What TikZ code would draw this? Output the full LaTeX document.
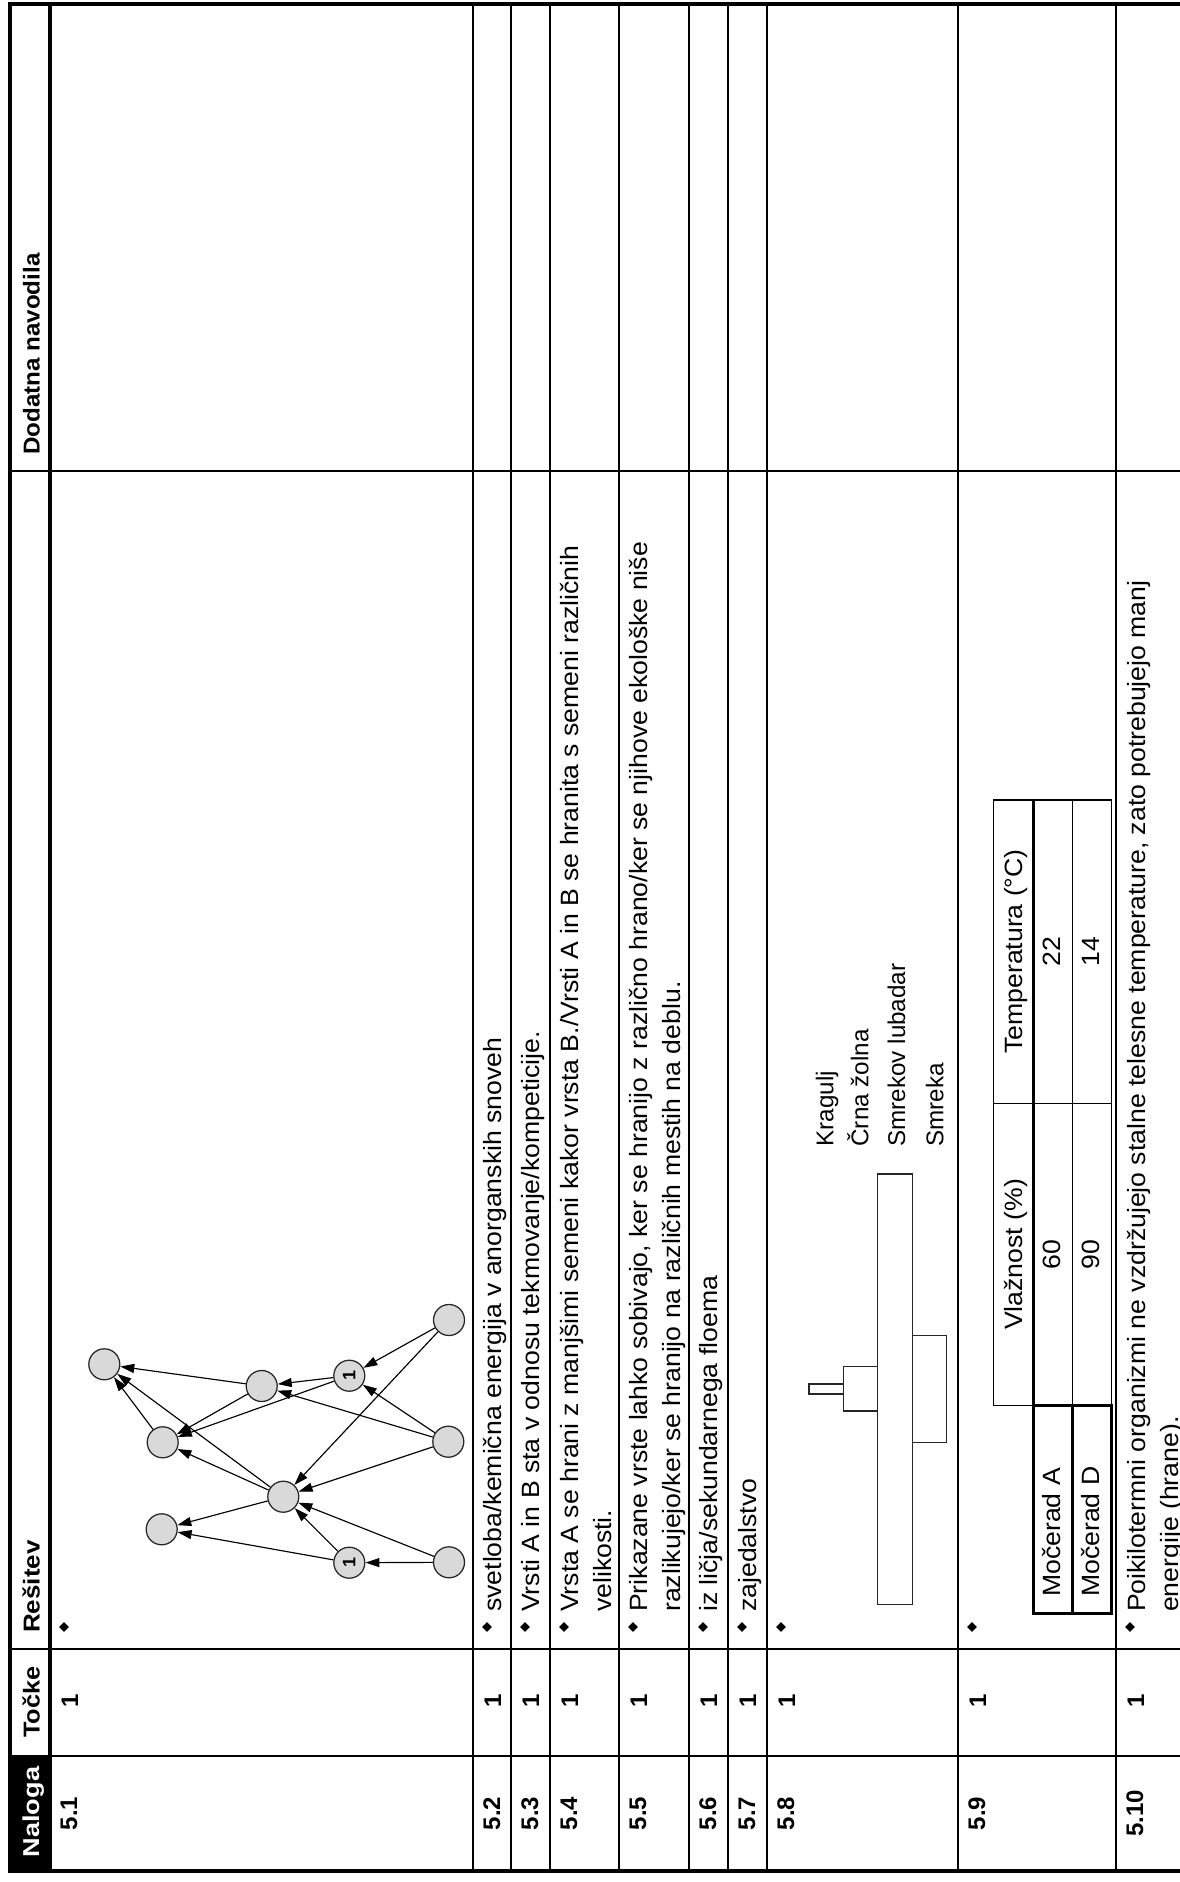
\documentclass[tikz,border=0pt]{standalone}
\usepackage{fontspec}
\usepackage{graphicx}
\setmainfont{Liberation Sans}
\usetikzlibrary{arrows.meta,shapes.geometric}
\definecolor{nodegray}{RGB}{217,217,217}
\newcommand{\strx}[1]{\scalebox{1.065}[1]{#1}}
\newcommand{\hsx}[2]{\scalebox{#1}[1]{#2}}
\begin{document}
\begin{tikzpicture}[x=1pt,y=-1pt,
  thinline/.style={line width=1.3pt},
  thickline/.style={line width=3.6pt},
  midline/.style={line width=2.6pt},
  txt/.style={rotate=90, anchor=base west, inner sep=0pt, font=\fontsize{25}{33}\selectfont},
  ctxt/.style={rotate=90, anchor=base, inner sep=0pt, font=\fontsize{25}{33}\selectfont},
  lbl/.style={rotate=90, anchor=base west, inner sep=0pt, font=\fontsize{24.2}{30}\selectfont},
  hdr/.style={rotate=90, inner sep=0pt, font=\fontsize{23}{28}\selectfont\bfseries},
  num/.style={rotate=90, anchor=base, inner sep=0pt, font=\fontsize{24}{28}\selectfont\bfseries},
  bul/.style={diamond, fill=black, inner sep=0pt, minimum size=10pt},
  web/.style={circle, draw=black!85, line width=1.25pt, fill=nodegray, minimum size=31pt, inner sep=0pt, rotate=90, font=\fontsize{18}{18}\selectfont\bfseries},
  arr/.style={-{Triangle[length=14pt,width=9pt]}, line width=1.15pt},
  boxline/.style={draw=black!85, line width=1.3pt},
]
\useasboundingbox (0,0) rectangle (1180,1882);
\fill[white] (0,0) rectangle (1180,1882);
% header black cell
\fill[black] (10,1756) rectangle (50,1871);
% grid
\foreach \x in {473,511,550,619,689,728,767,958,1116}
  \draw[thinline] (\x,4) -- (\x,1871);
\foreach \y in {471,1649,1756}
  \draw[thinline] (10,\y) -- (1180,\y);
\draw[thickline] (1180,4) -- (10,4) -- (10,1871) -- (1180,1871);
\draw[thickline] (50,4) -- (50,1871);

% headers
\node[hdr, anchor=base west] (hDod) at (39.5,455) {\hsx{1.05}{Dodatna navodila}};
\node[hdr, anchor=base west] (hRes) at (39.5,1633) {\hsx{1.13}{Rešitev}};
\node[hdr, anchor=base] (hTock) at (39.5,1702) {\hsx{1.1}{Točke}};
\node[hdr, anchor=base, text=white] (hNal) at (39.5,1812) {\hsx{1.18}{Naloga}};

% task numbers and points
\foreach \s/\lab [count=\i] in {50/5.1,473/5.2,511/5.3,550/5.4,619/5.5,689/5.6,728/5.7,767/5.8,958/5.9,1116/5.10}{
  \node[num] (n\i) at (\s+27,1813.5) {\lab};
  \node[num] (p\i) at (\s+28,1701) {1};
  \node[bul] (b\i) at (\s+14,1627) {};
}

% answers
\node[txt] (t52) at (501.5,1612) {\strx{svetloba/kemična energija v anorganskih snoveh}};
\node[txt] (t53) at (539.5,1612) {\strx{Vrsti A in B sta v odnosu tekmovanje/kompeticije.}};
\node[txt] (t54a) at (578.5,1612) {\strx{Vrsta A se hrani z manjšimi semeni kakor vrsta B./Vrsti A in B se hranita s semeni različnih}};
\node[txt] (t54b) at (611.5,1612) {\strx{velikosti.}};
\node[txt] (t55a) at (647.5,1612) {\strx{Prikazane vrste lahko sobivajo, ker se hranijo z različno hrano/ker se njihove ekološke niše}};
\node[txt] (t55b) at (680.5,1612) {\strx{razlikujejo/ker se hranijo na različnih mestih na deblu.}};
\node[txt] (t56) at (717.5,1612) {\strx{iz ličja/sekundarnega floema}};
\node[txt] (t57) at (756.5,1612) {\strx{zajedalstvo}};
\node[txt] (t510a) at (1145,1612) {\strx{Poikilotermni organizmi ne vzdržujejo stalne telesne temperature, zato potrebujejo manj}};
\node[txt] (t510b) at (1178,1612) {\strx{energije (hrane).}};

% food web 5.1
\node[web] (a) at (104.3,1364.3) {};
\node[web] (d) at (261.7,1386) {};
\node[web] (f) at (349.3,1375.7) {1};
\node[web] (h) at (449,1320) {};
\node[web] (b) at (162.7,1442.3) {};
\node[web] (i) at (448.3,1441.7) {};
\node[web] (e) at (283.3,1496.7) {};
\node[web] (c) at (161.7,1529.3) {};
\node[web] (g) at (349.3,1562.7) {1};
\node[web] (j) at (449,1562.3) {};
\foreach \u/\v in {d/a,b/a,e/a,f/d,i/d,h/f,i/f,d/b,f/b,e/b,h/e,i/e,e/c,g/c,g/e,j/e,j/g}
  \draw[arr] (\u) -- (\v);

% 5.8 diagram
\draw[boxline] (877.7,1174) rectangle (912.3,1604.3);
\draw[boxline] (843.7,1366.7) rectangle (877.7,1411);
\draw[boxline] (809,1384) rectangle (843.7,1394);
\draw[boxline] (912.3,1335.7) rectangle (946.7,1442.3);
\node[lbl] (l1) at (833.3,1146.7) {Kragulj};
\node[lbl] (l2) at (868.3,1146.7) {Črna žolna};
\node[lbl] (l3) at (905,1146.7) {Smrekov lubadar};
\node[lbl] (l4) at (943.3,1146.7) {Smreka};

% 5.9 table
\draw[thinline] (1033.3,800) -- (993.3,800) -- (993.3,1405.7) -- (1033.3,1405.7);
\draw[thinline] (993.3,1103.3) -- (1111.7,1103.3);
\draw[thinline] (1033.3,800) -- (1111.7,800) -- (1111.7,1405.7);
\draw[thinline] (1072.7,800) -- (1072.7,1405.7);
\draw[midline] (1033.3,800) -- (1033.3,1613.3);
\draw[midline] (1033.3,1405.7) rectangle (1111.7,1613.3);
\draw[midline] (1072.7,1405.7) -- (1072.7,1613.3);
\node[ctxt] (v1) at (1022,1254.5) {\strx{Vlažnost (\%)}};
\node[ctxt] (v2) at (1022,951.5) {\strx{Temperatura (°C)}};
\node[ctxt] (v3) at (1060,1254.5) {\strx{60}};
\node[ctxt] (v4) at (1099,1254.5) {\strx{90}};
\node[ctxt] (v5) at (1060,951.5) {\strx{22}};
\node[ctxt] (v6) at (1099,951.5) {\strx{14}};
\node[txt] (m1) at (1060,1597) {\strx{Močerad A}};
\node[txt] (m2) at (1099,1597) {\strx{Močerad D}};
\end{tikzpicture}
\end{document}
